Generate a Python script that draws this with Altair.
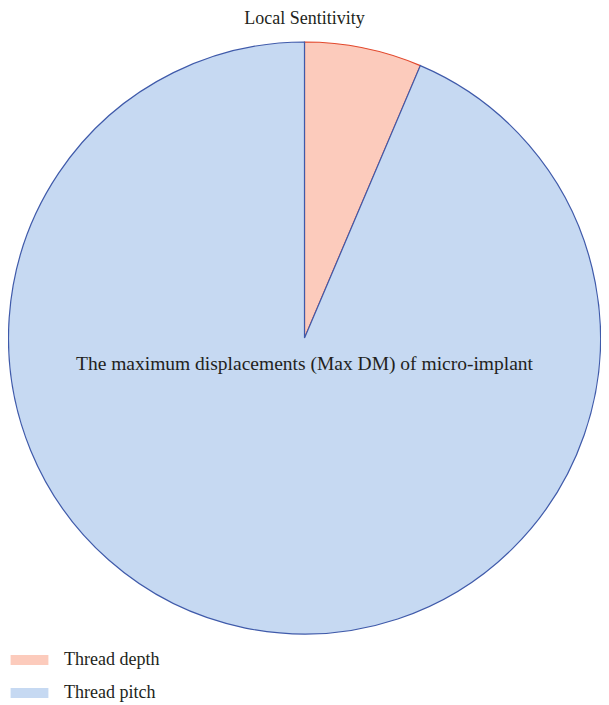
import altair as alt
import pandas as pd

categories = ["Thread depth", "Thread pitch"]
values = [6.4, 93.6]
order = [0, 1]
title_text = "Local Sentitivity"
center_text = "The maximum displacements (Max DM) of micro-implant"

fills = ["#FCCBBC", "#C6D9F2"]
strokes = ["#E2482C", "#3F5AAA"]

df = pd.DataFrame({"Category": categories, "value": values, "order": order})

FONT = "Liberation Serif"
TEXT_COLOR = "#231F20"

fill_scale = alt.Scale(domain=categories, range=fills)
stroke_scale = alt.Scale(domain=categories, range=strokes)

rect_path = "M-2.1,-0.55H2.1V0.55H-2.1Z"

legend = alt.Legend(
    orient="none", legendX=12.5, legendY=643, title=None,
    labelFont=FONT, labelFontSize=18, labelLimit=300, labelColor=TEXT_COLOR,
    symbolSize=324, rowPadding=15, labelOffset=25.5, direction="vertical",
    symbolType=rect_path, symbolStrokeWidth=0,
)

pie = alt.Chart(df).mark_arc(radius=296, strokeWidth=1.2).encode(
    theta=alt.Theta("value:Q", stack=True),
    order=alt.Order("order:Q"),
    fill=alt.Fill("Category:N", scale=fill_scale, legend=legend),
    stroke=alt.Stroke("Category:N", scale=stroke_scale, legend=None),
    x=alt.value(296.5), y=alt.value(330),
)

center = alt.Chart(pd.DataFrame({"t": [center_text]})).mark_text(
    font=FONT, fontSize=19.5, color=TEXT_COLOR, baseline="alphabetic", align="center"
).encode(text="t:N", x=alt.value(296.5), y=alt.value(362))

title = alt.Chart(pd.DataFrame({"t": [title_text]})).mark_text(
    font=FONT, fontSize=18, color=TEXT_COLOR, baseline="alphabetic", align="center"
).encode(text="t:N", x=alt.value(296.5), y=alt.value(15.5))

chart = alt.layer(pie, center, title).properties(
    width=593, height=694, autosize=alt.AutoSizeParams(type="none"), padding=0
).configure_view(stroke=None)

chart.save("out.html", embed_options={"renderer": "svg", "actions": False})
